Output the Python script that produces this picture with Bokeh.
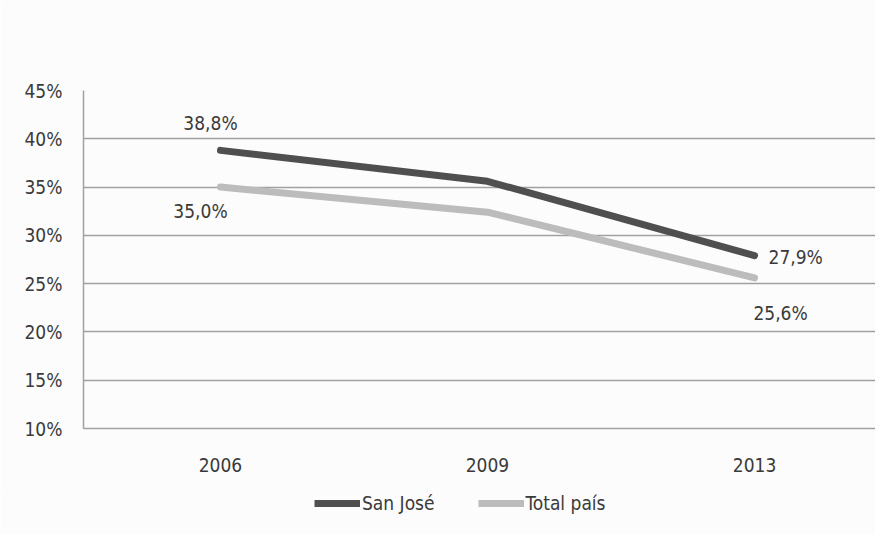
from bokeh.plotting import figure
from bokeh.layouts import column
from bokeh.models import (Range1d, FixedTicker, Legend, LegendItem)
from bokeh.embed import file_html
from bokeh.resources import INLINE
from bokeh.core.properties import value

years = ["2006", "2009", "2013"]
san_jose = [38.8, 35.6, 27.9]
total_pais = [35.0, 32.4, 25.6]
y_ticks = [10, 15, 20, 25, 30, 35, 40, 45]
series_names = ["San José", "Total país"]

FONT = "DejaVu Sans Condensed"
TXT = "#3a3a3a"
DARK = "#4f4f4f"
LIGHT = "#bcbcbc"
BG = "#fcfcfc"
GRID = "#a0a0a0"

xs = list(range(len(years)))

p = figure(width=875, height=490, output_backend="svg", toolbar_location=None,
           x_range=Range1d(-0.513, 2.453), y_range=Range1d(10, 45),
           min_border_left=83, min_border_right=0, min_border_top=90, min_border_bottom=62)
p.background_fill_color = BG
p.border_fill_color = BG
p.outline_line_color = None

p.xaxis.ticker = FixedTicker(ticks=xs)
p.xaxis.major_label_overrides = {i: y for i, y in zip(xs, years)}
p.yaxis.ticker = FixedTicker(ticks=y_ticks)
p.yaxis.major_label_overrides = {t: f"{t}%" for t in y_ticks}

for ax in (p.xaxis[0], p.yaxis[0]):
    ax.major_tick_line_color = None
    ax.minor_tick_line_color = None
    ax.axis_line_color = GRID
    ax.axis_line_width = 1.5
    ax.major_label_text_font = FONT
    ax.major_label_text_font_size = "19px"
    ax.major_label_text_color = TXT
p.xaxis.major_label_standoff = 23
p.yaxis.major_label_standoff = 15

p.xgrid.grid_line_color = None
p.ygrid.grid_line_color = GRID
p.ygrid.grid_line_width = 1.5

p.line(xs, san_jose, line_color=DARK, line_width=7, line_cap="round", line_join="round")
p.line(xs, total_pais, line_color=LIGHT, line_width=7, line_cap="round", line_join="round")

def fmt(v):
    return f"{v:.1f}%".replace(".", ",")

common = dict(text_baseline="middle", text_font=value(FONT), text_font_size="19px", text_color=TXT)
p.text(x=[xs[0]], y=[san_jose[0]], text=[fmt(san_jose[0])], x_offset=-10, y_offset=-27,
       text_align="center", **common)
p.text(x=[xs[0]], y=[total_pais[0]], text=[fmt(total_pais[0])], x_offset=-20, y_offset=24,
       text_align="center", **common)
p.text(x=[xs[2]], y=[san_jose[2]], text=[fmt(san_jose[2])], x_offset=14, y_offset=1,
       text_align="left", **common)
p.text(x=[xs[2]], y=[total_pais[2]], text=[fmt(total_pais[2])], x_offset=26, y_offset=35,
       text_align="center", **common)

# legend strip (its series lines lie outside its fixed ranges; only the swatches show)
lg = figure(width=875, height=44, output_backend="svg", toolbar_location=None,
            x_range=Range1d(100, 101), y_range=Range1d(100, 101),
            x_axis_location=None, y_axis_location=None, min_border=0)
lg.background_fill_color = BG
lg.border_fill_color = BG
lg.outline_line_color = None
lg.xgrid.grid_line_color = None
lg.ygrid.grid_line_color = None
k1 = lg.line(xs, san_jose, line_color=DARK, line_width=7)
k2 = lg.line(xs, total_pais, line_color=LIGHT, line_width=7)

legend = Legend(items=[LegendItem(label=series_names[0], renderers=[k1]),
                       LegendItem(label=series_names[1], renderers=[k2])],
                orientation="horizontal", location=(231, 20))
legend.background_fill_alpha = 0
legend.border_line_color = None
legend.label_text_font = FONT
legend.label_text_font_size = "19px"
legend.label_text_color = TXT
legend.glyph_width = 46
legend.label_standoff = 2
legend.spacing = 43
legend.margin = 0
legend.padding = 0
lg.add_layout(legend, "center")

layout = column(p, lg, spacing=0)
open("out.html", "w").write(file_html(layout, INLINE))
